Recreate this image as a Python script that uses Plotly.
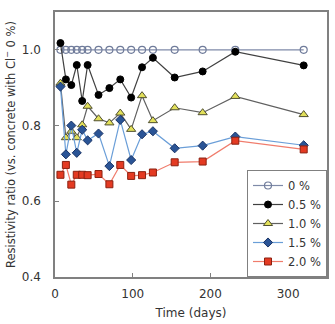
import plotly.graph_objects as go

days = [7, 14, 21, 28, 35, 42, 56, 70, 84, 98, 112, 126, 154, 190, 232, 320]

cl_0_0 = [1.0] * 16
cl_0_5 = [1.018, 0.922, 0.907, 0.960, 0.865, 0.960, 0.881, 0.899, 0.922, 0.874,
          0.954, 0.979, 0.927, 0.943, 0.995, 0.959]
cl_1_0 = [0.912, 0.768, 0.785, 0.768, 0.802, 0.851, 0.818, 0.807, 0.833, 0.790,
          0.879, 0.813, 0.847, 0.834, 0.877, 0.829]
cl_1_5 = [0.903, 0.724, 0.800, 0.728, 0.789, 0.761, 0.779, 0.693, 0.815, 0.709,
          0.777, 0.785, 0.740, 0.747, 0.771, 0.748]
cl_2_0 = [0.670, 0.696, 0.644, 0.670, 0.670, 0.669, 0.672, 0.645, 0.696, 0.667,
          0.669, 0.676, 0.703, 0.705, 0.760, 0.737]

names = ["0 %", "0.5 %", "1.0 %", "1.5 %", "2.0 %"]
x_ticks = [0, 100, 200, 300]
y_ticks = [0.4, 0.6, 0.8, 1.0]

styles = [
    dict(series=cl_0_0, line="#7f8aa8", symbol="circle-open", mcolor="#6f7b9a", size=7, mline="#6f7b9a"),
    dict(series=cl_0_5, line="#404040", symbol="circle", mcolor="#000000", size=7, mline="#000000"),
    dict(series=cl_1_0, line="#606060", symbol="triangle-up", mcolor="#e2e05a", size=8, mline="#505030"),
    dict(series=cl_1_5, line="#6a9ed8", symbol="diamond", mcolor="#2a5496", size=7, mline="#1a3466"),
    dict(series=cl_2_0, line="#f07c6c", symbol="square", mcolor="#e43a22", size=7, mline="#8a2010"),
]

fig = go.Figure()
for name, st in zip(names, styles):
    fig.add_trace(go.Scatter(
        x=days, y=st["series"], name=name, mode="lines+markers",
        line=dict(color=st["line"], width=1.2),
        marker=dict(symbol=st["symbol"], color=st["mcolor"], size=st["size"],
                    line=dict(color=st["mline"], width=1 if st["symbol"] != "circle-open" else 1.2)),
    ))

font = dict(family="DejaVu Sans", size=12, color="#333333")
fig.update_layout(
    width=335, height=324,
    margin=dict(l=55, r=6, t=12, b=44),
    paper_bgcolor="white", plot_bgcolor="white",
    font=font,
    showlegend=True,
    legend=dict(x=1, xanchor="right", y=0, yanchor="bottom",
                bgcolor="white", bordercolor="#808080", borderwidth=1,
                font=dict(family="DejaVu Sans", size=11.5, color="#333333"),
                itemwidth=30, tracegroupgap=0),
    xaxis=dict(range=[0, 350], tickvals=x_ticks, ticks="inside", ticklen=4,
               tickcolor="#808080", showgrid=False, zeroline=False,
               ticklabelstandoff=5,
               showline=True, linecolor="#808080", linewidth=1.5, mirror=True,
               title=dict(text="Time (days)", standoff=8, font=font)),
    yaxis=dict(range=[0.4, 1.1], tickvals=y_ticks, tickformat=".1f", ticks="inside",
               ticklen=4, tickcolor="#808080", showgrid=False, zeroline=False,
               ticklabelstandoff=10,
               showline=True, linecolor="#808080", linewidth=1.5, mirror=True,
               title=dict(text="Resistivity ratio (vs. concrete with Cl<sup>−</sup> 0 %)",
                          standoff=4, font=dict(family="DejaVu Sans", size=11.5, color="#333333"))),
)

fig.write_html("out.html")
